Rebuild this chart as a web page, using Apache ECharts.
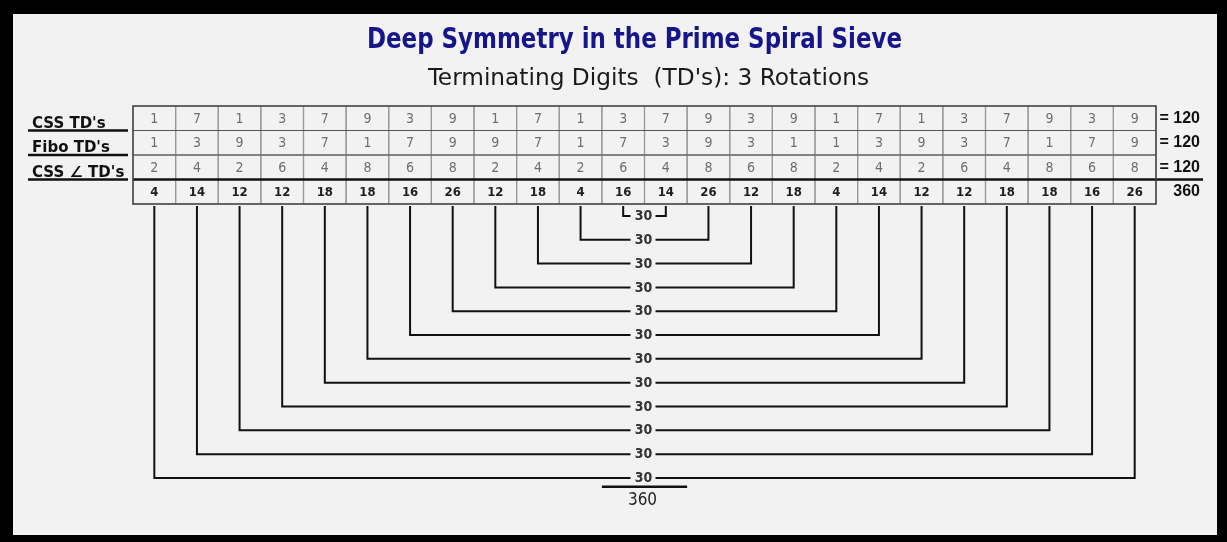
<!DOCTYPE html>
<html>
<head>
<meta charset="utf-8">
<script src="https://cdn.jsdelivr.net/npm/echarts@6/dist/echarts.min.js"></script>
<style>
html,body{margin:0;padding:0;background:#000;}
#chart{width:1227px;height:542px;}
</style>
</head>
<body>
<div id="chart"></div>
<script>
// ---------- data ----------
const titleText = 'Deep Symmetry in the Prime Spiral Sieve';
const subtitleText = "Terminating Digits  (TD's): 3 Rotations";
const rowLabels = ["CSS TD's", "Fibo TD's", "CSS \u2220 TD's"];
const cssTD      = [1,7,1,3,7,9,3,9,1,7,1,3,7,9,3,9,1,7,1,3,7,9,3,9];
const fiboTD     = [1,3,9,3,7,1,7,9,9,7,1,7,3,9,3,1,1,3,9,3,7,1,7,9];
const cssAngleTD = [2,4,2,6,4,8,6,8,2,4,2,6,4,8,6,8,2,4,2,6,4,8,6,8];
const columnTotals = [4,14,12,12,18,18,16,26,12,18,4,16,14,26,12,18,4,14,12,12,18,18,16,26];
const rowTotalLabels = ['= 120', '= 120', '= 120', '360'];
// pairs of columns (0-based) joined by brackets, innermost first
const bracketPairs = [[11,12],[10,13],[9,14],[8,15],[7,16],[6,17],[5,18],[4,19],[3,20],[2,21],[1,22],[0,23]];
const bracketSums  = [30,30,30,30,30,30,30,30,30,30,30,30];
const grandTotal = 360;

// ---------- derived series data ----------
const tableRows = [cssTD, fiboTD, cssAngleTD, columnTotals];
const cellData = [];
tableRows.forEach((row, r) => row.forEach((v, c) => cellData.push([c, r, v])));
const labelData = rowTotalLabels.map((t, r) => [0, r]);
const bracketData = bracketPairs.map((p, k) => [p[0], p[1], k, bracketSums[k]]);

const FAM = '"DejaVu Sans Condensed", "DejaVu Sans", sans-serif';
const NCOLS = cssTD.length;

function fitScale(text, font, target) {
  const ctx = document.createElement('canvas').getContext('2d');
  ctx.font = font;
  return target / ctx.measureText(text).width;
}
const titleFont = 'bold 28px ' + FAM;
const subFont = '23px ' + FAM;

function txt(text, x, y, font, fill, align, valign) {
  return {type: 'text', style: {text: text, x: x, y: y, font: font, fill: fill,
    align: align, verticalAlign: valign, textAlign: align, textVerticalAlign: valign}};
}

const chart = echarts.init(document.getElementById('chart'), null, {renderer: 'canvas'});
chart.setOption({
  animation: false,
  backgroundColor: '#000',
  graphic: [
    {type: 'rect', shape: {x: 13, y: 14, width: 1204, height: 521}, style: {fill: '#f2f2f2'}, z: -10},
    {type: 'text', x: 367, y: 41, scaleX: fitScale(titleText, titleFont, 535),
      style: {text: titleText, font: titleFont, fill: '#16168a', align: 'left', verticalAlign: 'middle', textAlign: 'left', textVerticalAlign: 'middle'}},
    {type: 'text', x: 428, y: 79, scaleX: fitScale(subtitleText, subFont, 441),
      style: {text: subtitleText, font: subFont, fill: '#1a1a1a', align: 'left', verticalAlign: 'middle', textAlign: 'left', textVerticalAlign: 'middle'}}
  ],
  grid: [
    {left: 133, top: 106, width: 1023, height: 98},
    {left: 133, top: 204, width: 1023, height: 274}
  ],
  xAxis: [
    {type: 'value', gridIndex: 0, min: 0, max: NCOLS, show: false},
    {type: 'value', gridIndex: 1, min: 0, max: NCOLS, show: false}
  ],
  yAxis: [
    {type: 'value', gridIndex: 0, min: 0, max: 4, inverse: true, show: false},
    {type: 'value', gridIndex: 1, min: -0.5, max: 11, inverse: true, show: false}
  ],
  series: [
    { // table cells
      type: 'custom', xAxisIndex: 0, yAxisIndex: 0, data: cellData,
      renderItem: function (params, api) {
        const c = api.value(0), r = api.value(1), v = api.value(2);
        const p0 = api.coord([c, r]), p1 = api.coord([c + 1, r + 1]);
        const bold = r === 3;
        return {type: 'group', children: [
          {type: 'rect', shape: {x: p0[0], y: p0[1], width: p1[0] - p0[0], height: p1[1] - p0[1]},
            style: {fill: 'none', stroke: '#9a9a9a', lineWidth: 1.2}},
          txt(String(v), (p0[0] + p1[0]) / 2, (p0[1] + p1[1]) / 2 + 1,
            (bold ? 'bold 13px ' : '14px ') + FAM, bold ? '#1e1e1e' : '#6e6e6e', 'center', 'middle')
        ]};
      }
    },
    { // row labels, underlines, totals, frame
      type: 'custom', xAxisIndex: 0, yAxisIndex: 0, data: labelData, z: 3,
      renderItem: function (params, api) {
        const r = api.value(1);
        const ch = [];
        const yc = api.coord([0, r + 0.5])[1];
        const yb = api.coord([0, r + 1])[1];
        const xl = api.coord([0, r])[0];
        const xr = api.coord([NCOLS, r])[0];
        if (r < rowLabels.length) {
          ch.push(txt(rowLabels[r], xl - 101, yb + 1, 'bold 15px "DejaVu Sans", sans-serif', '#111', 'left', 'bottom'));
          ch.push({type: 'line', shape: {x1: xl - 105, y1: yb, x2: xl - 5, y2: yb}, style: {stroke: '#111', lineWidth: 2.5}});
        }
        ch.push(txt(rowTotalLabels[r], xr + 44, yc, 'bold 16px "Liberation Sans", Arial, sans-serif', '#111', 'right', 'middle'));
        if (r === 0) {
          const pb = api.coord([NCOLS, 4]);
          for (let k = 1; k <= 2; k++) {
            const yk = api.coord([0, k])[1];
            ch.push({type: 'line', shape: {x1: xl, y1: yk, x2: xr, y2: yk}, style: {stroke: '#555', lineWidth: 1.2}});
          }
          const y3 = api.coord([0, 3])[1];
          ch.push({type: 'line', shape: {x1: xl, y1: y3, x2: xr + 47, y2: y3}, style: {stroke: '#111', lineWidth: 2.5}});
          ch.push({type: 'rect', shape: {x: xl, y: api.coord([0, 0])[1], width: pb[0] - xl, height: pb[1] - api.coord([0, 0])[1]},
            style: {fill: 'none', stroke: '#444', lineWidth: 1.5}});
        }
        return {type: 'group', children: ch};
      }
    },
    { // brackets
      type: 'custom', xAxisIndex: 1, yAxisIndex: 1, data: bracketData,
      renderItem: function (params, api) {
        const a = api.value(0), b = api.value(1), k = api.value(2), s = api.value(3);
        const pa = api.coord([a + 0.5, k]), pb = api.coord([b + 0.5, k]);
        const pm = api.coord([(a + b + 1) / 2, k]);
        const yTop = api.coord([a + 0.5, -0.42])[1];
        const st = {stroke: '#111', lineWidth: 2, fill: 'none'};
        return {type: 'group', children: [
          {type: 'polyline', shape: {points: [[pa[0], yTop], [pa[0], pa[1]], [pm[0] - 14, pa[1]]]}, style: st},
          {type: 'polyline', shape: {points: [[pm[0] + 11, pb[1]], [pb[0], pb[1]], [pb[0], yTop]]}, style: st},
          txt(String(s), pm[0] - 1, pm[1] + 0.5, 'bold 14px ' + FAM, '#333', 'center', 'middle')
        ]};
      }
    },
    { // grand total under the brackets
      type: 'custom', xAxisIndex: 1, yAxisIndex: 1, data: [[NCOLS / 2, grandTotal]],
      renderItem: function (params, api) {
        const cx = api.value(0);
        const p0 = api.coord([cx - 1, 11.37]), p1 = api.coord([cx + 1, 11.37]);
        const pt = api.coord([cx, 11.95]);
        return {type: 'group', children: [
          {type: 'line', shape: {x1: p0[0], y1: p0[1], x2: p1[0], y2: p1[1]}, style: {stroke: '#111', lineWidth: 2.5}},
          txt(String(api.value(1)), pt[0] - 2, pt[1], '17px "Liberation Sans Narrow", "DejaVu Sans Condensed", sans-serif', '#222', 'center', 'middle')
        ]};
      }
    }
  ]
});
</script>
</body>
</html>
